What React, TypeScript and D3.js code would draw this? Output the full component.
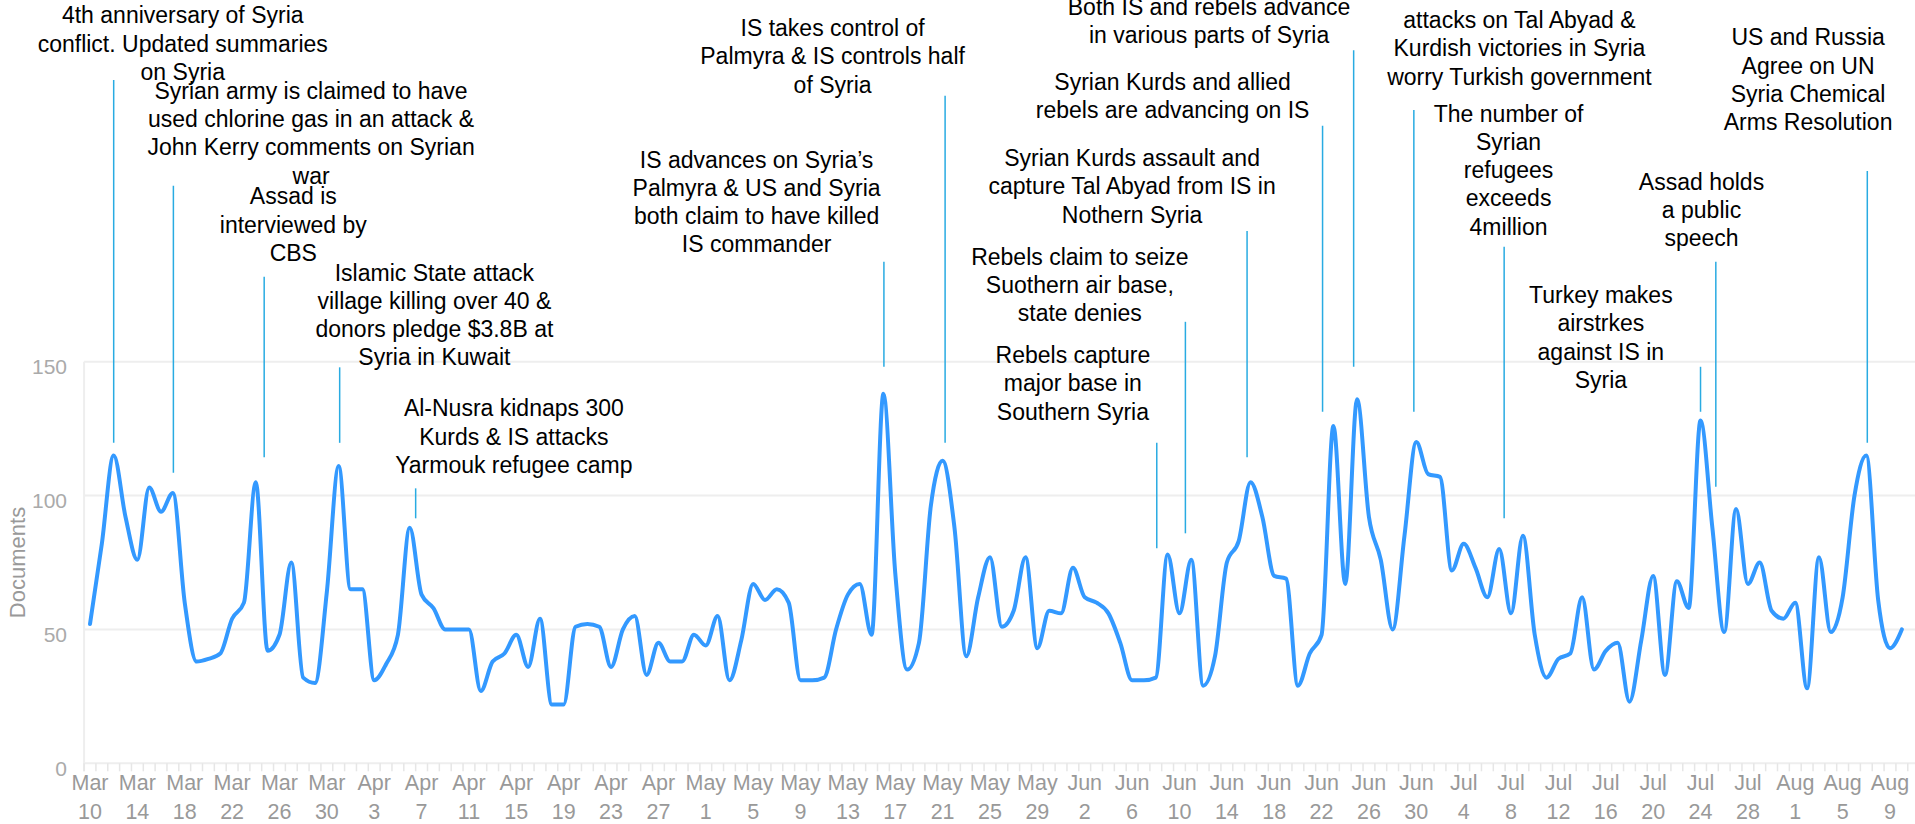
import React from "react";
import * as d3 from "d3";

// Daily document counts, one value per day starting 2015-03-10
const startDate = "2015-03-10T12:00:00Z";
const documents = [
  52, 82, 115, 92, 76, 103, 94, 101, 60, 38, 39, 41, 54, 60, 105, 42, 48, 75, 32, 30,
  64, 111, 65, 65, 31, 37, 48, 88, 63, 58, 50, 50, 50, 27, 38, 41, 48, 36, 54, 22,
  22, 51, 52, 51, 36, 50, 55, 33, 45, 38, 38, 48, 44, 55, 31, 46, 67, 61, 65, 60,
  31, 31, 32, 50, 63, 67, 48, 138, 71, 35, 45, 96, 113, 88, 40, 62, 77, 51, 57, 77,
  43, 57, 56, 73, 62, 60, 56, 45, 31, 31, 32, 78, 56, 76, 29, 40, 75, 83, 105, 92,
  70, 69, 29, 41, 48, 126, 67, 136, 92, 76, 50, 85, 120, 108, 107, 72, 82, 73, 62, 80,
  56, 85, 48, 32, 39, 41, 62, 35, 42, 45, 23, 46, 70, 33, 68, 58, 128, 88, 49, 95,
  67, 75, 57, 54, 60, 28, 77, 49, 62, 100, 115, 61, 43, 50,
];

const yTicks = [0, 50, 100, 150];
const tickEveryDays = 4;
const yTitle = "Documents";

// Annotations: line = date of connector, top/bottom = connector ends (in document units),
// label = label centre date, labelValue = first text line (in document units)
const annotations = [
  { line: "2015-03-12T12:00Z", top: 255.2, bottom: 119.7, label: "2015-03-18T08:00Z", labelValue: 279.4,
    text: ["4th anniversary of Syria", "conflict. Updated summaries", "on Syria"] },
  { line: "2015-03-17T13:00Z", top: 215.7, bottom: 108.5, label: "2015-03-29T04:00Z", labelValue: 251.2,
    text: ["Syrian army is claimed to have", "used chlorine gas in an attack &", "John Kerry comments on Syrian", "war"] },
  { line: "2015-03-25T05:00Z", top: 181.7, bottom: 114.3, label: "2015-03-27T16:00Z", labelValue: 211.8,
    text: ["Assad is", "interviewed by", "CBS"] },
  { line: "2015-03-31T14:00Z", top: 147.9, bottom: 119.7, label: "2015-04-08T14:00Z", labelValue: 183.3,
    text: ["Islamic State attack", "village killing over 40 &", "donors pledge $3.8B at", "Syria in Kuwait"] },
  { line: "2015-04-07T00:00Z", top: 102.7, bottom: 91.5, label: "2015-04-15T07:00Z", labelValue: 132.6,
    text: ["Al-Nusra kidnaps 300", "Kurds & IS attacks", "Yarmouk refugee camp"] },
  { line: "2015-05-16T13:00Z", top: 187.3, bottom: 148.1, label: "2015-05-05T19:00Z", labelValue: 225.5,
    text: ["IS advances on Syria\u2019s", "Palmyra & US and Syria", "both claim to have killed", "IS commander"] },
  { line: "2015-05-21T17:00Z", top: 249.3, bottom: 119.7, label: "2015-05-12T05:00Z", labelValue: 274.6,
    text: ["IS takes control of", "Palmyra & IS controls half", "of Syria"] },
  { line: "2015-06-25T05:00Z", top: 266.3, bottom: 148.1, label: "2015-06-13T00:00Z", labelValue: 282.5,
    text: ["Both IS and rebels advance", "in various parts of Syria"] },
  { line: "2015-06-22T14:00Z", top: 238.1, bottom: 131.3, label: "2015-06-09T22:00Z", labelValue: 254.5,
    text: ["Syrian Kurds and allied", "rebels are advancing on IS"] },
  { line: "2015-06-16T05:00Z", top: 198.8, bottom: 114.3, label: "2015-06-06T12:00Z", labelValue: 226.1,
    text: ["Syrian Kurds assault and", "capture Tal Abyad from IS in", "Nothern Syria"] },
  { line: "2015-06-11T00:00Z", top: 164.9, bottom: 85.9, label: "2015-06-02T02:00Z", labelValue: 189.2,
    text: ["Rebels claim to seize", "Suothern air base,", "state denies"] },
  { line: "2015-06-08T14:00Z", top: 119.7, bottom: 80.3, label: "2015-06-01T12:00Z", labelValue: 152.5,
    text: ["Rebels capture", "major base in", "Southern Syria"] },
  { line: "2015-06-30T07:00Z", top: 244.0, bottom: 131.3, label: "2015-07-09T05:00Z", labelValue: 277.6,
    text: ["attacks on Tal Abyad &", "Kurdish victories in Syria", "worry Turkish government"] },
  { line: "2015-07-07T22:00Z", top: 192.9, bottom: 91.5, label: "2015-07-08T07:00Z", labelValue: 242.7,
    text: ["The number of", "Syrian", "refugees", "exceeds", "4million"] },
  { line: "2015-07-24T12:00Z", top: 148.1, bottom: 131.3, label: "2015-07-16T02:00Z", labelValue: 174.9,
    text: ["Turkey makes", "airstrkes", "against IS in", "Syria"] },
  { line: "2015-07-25T19:00Z", top: 187.3, bottom: 103.3, label: "2015-07-24T14:00Z", labelValue: 217.2,
    text: ["Assad holds", "a public", "speech"] },
  { line: "2015-08-07T14:00Z", top: 221.2, bottom: 119.7, label: "2015-08-02T14:00Z", labelValue: 271.1,
    text: ["US and Russia", "Agree on UN", "Syria Chemical", "Arms Resolution"] },
];

const W = 1915;
const H = 824;
const DAY = 86400000;
const FONT = "'Liberation Sans', Arial, Helvetica, sans-serif";

export default function App() {
  const t0 = new Date(startDate).getTime();
  const series = documents.map((v, i) => ({ date: new Date(t0 + i * DAY), v }));
  const lastTick = new Date(t0 + 152 * DAY);

  const x = d3.scaleUtc().domain([new Date(t0), lastTick]).range([90, 1890]);
  const y = d3.scaleLinear().domain([0, 150]).range([763.3, 361.7]);

  const line = d3
    .line<{ date: Date; v: number }>()
    .x((d) => x(d.date))
    .y((d) => y(d.v))
    .curve(d3.curveMonotoneX);

  const majorTicks = d3.range(0, 153, tickEveryDays).map((k) => new Date(t0 + k * DAY));
  const minorTicks = d3.range(0, documents.length + 1).map((k) => new Date(t0 + (k - 0.5) * DAY));
  const fmtMonth = d3.utcFormat("%b");
  const fmtDay = d3.utcFormat("%-d");

  const plotLeft = x(new Date(t0 - 0.5 * DAY));
  const lineH = 28.3;

  return (
    <svg
      width={W}
      height={H}
      style={{ position: "absolute", left: 0, top: 0, background: "#fff" }}
      fontFamily={FONT}
    >
      {/* grid */}
      {yTicks.map((t) => (
        <line key={"g" + t} x1={plotLeft} x2={W} y1={y(t)} y2={y(t)} stroke="#eeeeee" strokeWidth={2} />
      ))}
      <line x1={plotLeft} x2={plotLeft} y1={y(150)} y2={y(0) + 8} stroke="#eeeeee" strokeWidth={2} />
      {minorTicks.map((d, i) => (
        <line key={"m" + i} x1={x(d)} x2={x(d)} y1={y(0)} y2={y(0) + 8} stroke="#e6e6e6" strokeWidth={1.5} />
      ))}
      {/* y labels */}
      {yTicks.map((t) => (
        <text key={"yl" + t} x={67} y={y(t) + 5} textAnchor="end" dominantBaseline="central" fontSize={21} fill="#aaaaaa">
          {t}
        </text>
      ))}
      <text
        transform={`translate(17, ${(y(0) + y(150)) / 2}) rotate(-90)`}
        textAnchor="middle"
        dominantBaseline="central"
        fontSize={22}
        fill="#999999"
      >
        {yTitle}
      </text>
      {/* x labels */}
      {majorTicks.map((d, i) => (
        <g key={"xl" + i}>
          <text x={x(d)} y={783.3} textAnchor="middle" dominantBaseline="central" fontSize={21.5} fill="#999999">
            {fmtMonth(d)}
          </text>
          <text x={x(d)} y={811.7} textAnchor="middle" dominantBaseline="central" fontSize={21.5} fill="#999999">
            {fmtDay(d)}
          </text>
        </g>
      ))}
      {/* annotation connectors */}
      {annotations.map((a, i) => {
        const xx = x(new Date(a.line));
        return <line key={"al" + i} x1={xx} x2={xx} y1={y(a.top)} y2={y(a.bottom)} stroke="#29abe2" strokeWidth={1.5} />;
      })}
      {/* data line */}
      <path d={line(series) || ""} fill="none" stroke="#3399ff" strokeWidth={4} strokeLinejoin="round" strokeLinecap="round" />
      {/* annotation texts */}
      {annotations.map((a, i) => {
        const cx = x(new Date(a.label));
        const cy = y(a.labelValue);
        return (
          <g key={"at" + i}>
            {a.text.map((s, j) => (
              <text key={j} x={cx} y={cy + j * lineH} textAnchor="middle" dominantBaseline="central" fontSize={23} fill="#000">
                {s}
              </text>
            ))}
          </g>
        );
      })}
    </svg>
  );
}
